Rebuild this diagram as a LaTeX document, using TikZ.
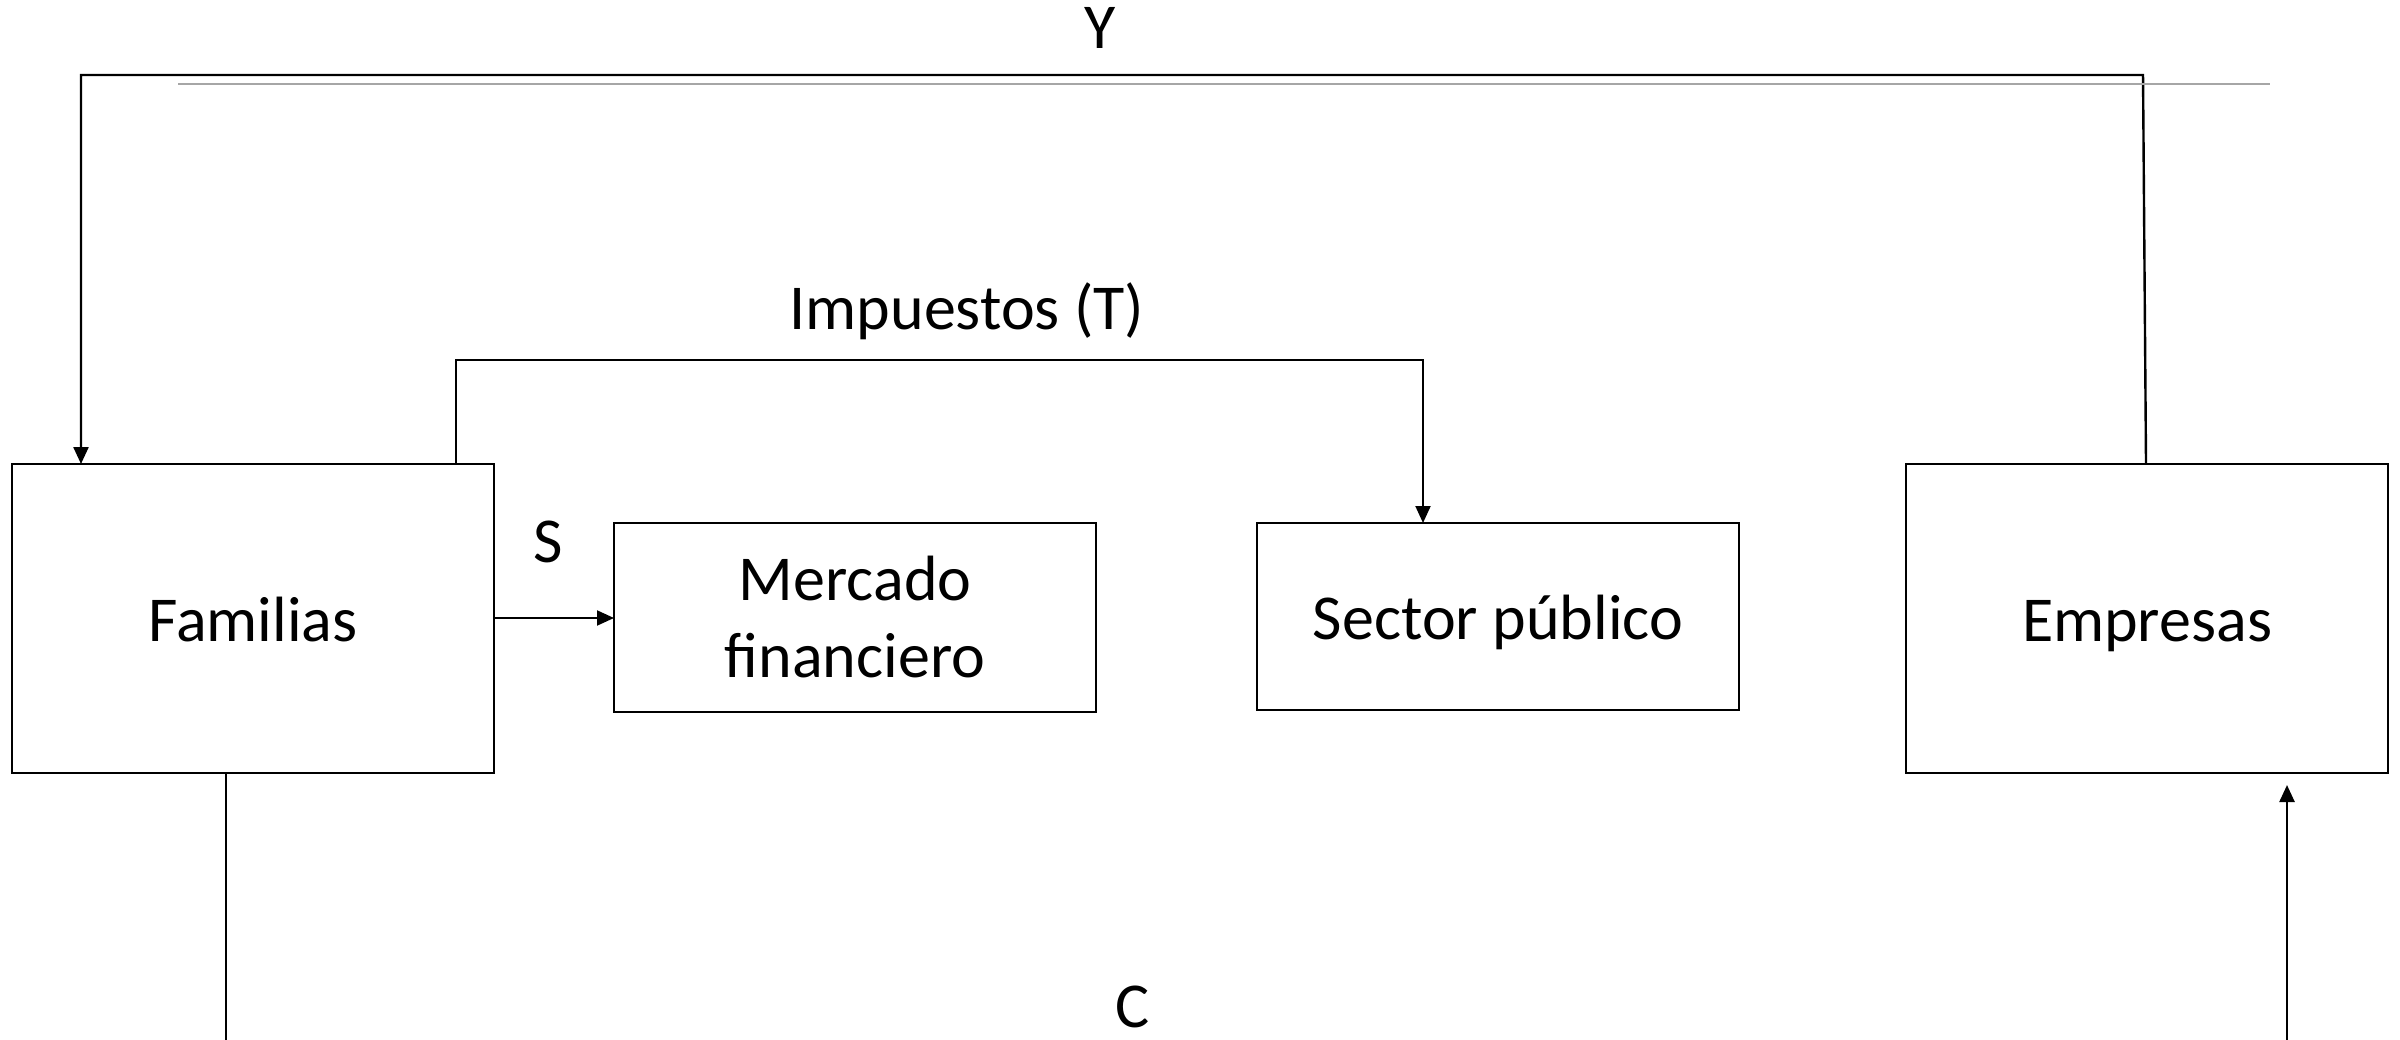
\documentclass[tikz,border=0pt]{standalone}
\usepackage{fontspec}
\setmainfont{Carlito}
\usetikzlibrary{arrows.meta}
\begin{document}
\begin{tikzpicture}[x=1pt,y=-1pt,
  box/.style={draw, line width=2.6pt, rectangle, inner sep=0pt, outer sep=0pt, align=center,
    font=\fontsize{64}{77}\selectfont},
  single/.style={text height=45pt, text depth=0pt},
  lbl/.style={inner sep=0pt, font=\fontsize{64}{77}\selectfont},
  conn/.style={line width=2.4pt, -{Triangle[width=15pt,length=17pt]}},
  plain/.style={line width=2.4pt}]
\useasboundingbox (0,0) rectangle (2400,1040);
\fill[white] (0,0) rectangle (2400,1040);

\node[box, single, minimum width=482pt, minimum height=309pt] (fam) at (253,618.5) {Familias};
\node[box, minimum width=482pt, minimum height=189pt] (mer) at (855,617.5) {Mercado\\financiero};
\node[box, single, minimum width=482pt, minimum height=187pt] (sec) at (1498,616.5) {Sector público};
\node[box, single, minimum width=482pt, minimum height=309pt] (emp) at (2147,618.5) {Empresas};

% Y flow
\coordinate (ye) at (2146,464);
\coordinate (yr) at (2143,75);
\coordinate (yl) at (81,75);
\draw[conn] (ye) -- (yr) -- (yl) -- (yl |- fam.north);
\draw[gray!70, line width=1.8pt] (178,84) -- (2270,84);
\node[lbl] (ylab) at (1100,28) {Y};

% Taxes
\coordinate (tl) at (456,464);
\coordinate (tlu) at (456,360);
\coordinate (tr) at (1423,360);
\draw[conn, line width=2pt] (tl) -- (tlu) -- (tr) -- (tr |- sec.north);
\node[lbl] (tlab) at (967,311) {Impuestos (T)};

% Savings
\draw[conn, line width=2pt] (fam.east |- 0,618) -- (mer.west |- 0,618);
\node[lbl] (slab) at (548,542) {S};

% Consumption
\coordinate (cb) at (226,1040);
\draw[plain] (cb |- fam.south) -- (cb);
\coordinate (eb) at (2287,1040);
\coordinate (et) at (2287,785);
\draw[conn] (eb) -- (et);
\node[lbl] (clab) at (1133,1007) {C};
\end{tikzpicture}
\end{document}
